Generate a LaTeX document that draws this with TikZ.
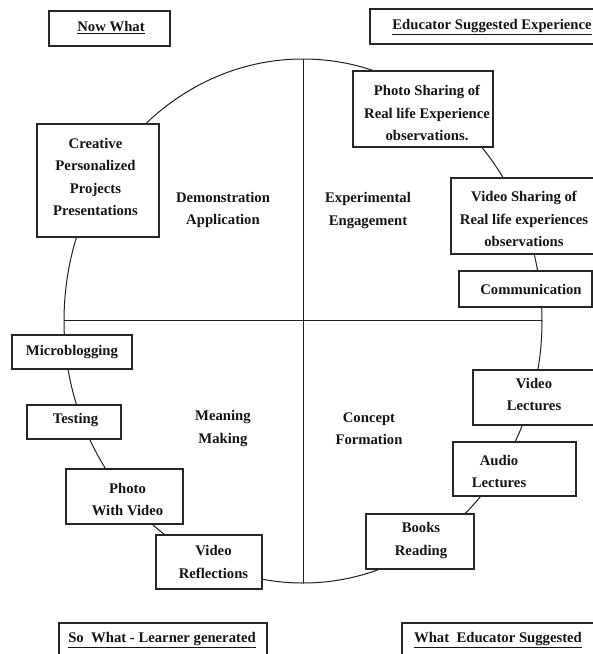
\documentclass[tikz,border=0pt]{standalone}
\usepackage{fontspec}
\setmainfont{Liberation Serif}
\begin{document}
\begin{tikzpicture}[x=1pt,y=-1pt,
  box/.style={draw=black!85, line width=1.2pt, fill=white, inner sep=0pt, rectangle},
  lbl/.style={align=center, inner sep=0pt, text=black!92, font=\fontsize{14.7}{22.3}\selectfont\bfseries},
  ring/.style={draw=black!88, line width=1pt}]
\useasboundingbox (0,0) rectangle (593,654);
\clip (0,0) rectangle (593,654);
% circle and cross
\coordinate (ctr) at (303,321);
\coordinate (top) at (303,59);
\coordinate (bot) at (303,583);
\coordinate (lft) at (64,320);
\coordinate (rgt) at (542,320);
\draw[ring] (ctr) ellipse [x radius=239pt, y radius=262pt];
\draw[ring] (top) -- (bot);
\draw[ring] (lft) -- (rgt);
% corner labels
\node[box, minimum width=121pt, minimum height=35pt] (nowB) at (109.5,28.5) {};
\node[lbl] (nowT) at (111,28) {\underline{Now What}};
\node[box, minimum width=235pt, minimum height=35pt] (eduB) at (487.5,26.5) {};
\node[lbl] (eduT) at (492,27) {\underline{Educator Suggested Experience}};
\node[box, minimum width=208pt, minimum height=42pt] (soB) at (163,644) {};
\node[lbl] (soT) at (162,640) {\underline{So\ \ What - Learner generated}};
\node[box, minimum width=203pt, minimum height=42pt] (whB) at (503.5,644) {};
\node[lbl] (whT) at (498,640) {\underline{What\ \ Educator Suggested}};
% quadrant labels
\node[lbl] (demo) at (223,210) {Demonstration\\Application};
\node[lbl] (expe) at (368,210.5) {Experimental\\Engagement};
\node[lbl] (mean) at (223,428.5) {Meaning\\Making};
\node[lbl] (conc) at (369,428.5) {Concept\\Formation};
% boxes on the ring
\node[box, minimum width=122pt, minimum height=113pt] (creB) at (98,180.5) {};
\node[lbl] (creT) at (95.5,177) {Creative\\Personalized\\Projects\\Presentations};
\node[box, minimum width=140pt, minimum height=76pt] (phsB) at (423,109) {};
\node[lbl] (phsT) at (427,113) {Photo Sharing of\\Real life Experience\\observations.};
\node[box, minimum width=154pt, minimum height=76pt] (vdsB) at (528,216) {};
\node[lbl] (vdsT) at (524,219) {Video Sharing of\\Real life experiences\\observations};
\node[box, minimum width=133pt, minimum height=36pt] (comB) at (525.5,289) {};
\node[lbl] (comT) at (531,289) {Communication};
\node[box, minimum width=120pt, minimum height=34pt] (micB) at (72,352) {};
\node[lbl] (micT) at (72,352) {Microblogging};
\node[box, minimum width=94pt, minimum height=34pt] (tstB) at (74,422) {};
\node[lbl] (tstT) at (75.5,420) {Testing};
\node[box, minimum width=117pt, minimum height=55pt] (pwvB) at (124.5,496.5) {};
\node[lbl] (pwvT) at (127.5,499.5) {Photo\\With Video};
\node[box, minimum width=106pt, minimum height=54pt] (vrfB) at (209,562) {};
\node[lbl] (vrfT) at (213.5,562) {Video\\Reflections};
\node[box, minimum width=132pt, minimum height=55pt] (vlcB) at (539,397.5) {};
\node[lbl] (vlcT) at (534,394.5) {Video\\Lectures};
\node[box, minimum width=123pt, minimum height=54pt] (audB) at (514.5,469) {};
\node[lbl] (audT) at (499,471.5) {Audio\\Lectures};
\node[box, minimum width=108pt, minimum height=55pt] (bkrB) at (420,541.5) {};
\node[lbl] (bkrT) at (421,540.5) {Books\\Reading};
\end{tikzpicture}
\end{document}
